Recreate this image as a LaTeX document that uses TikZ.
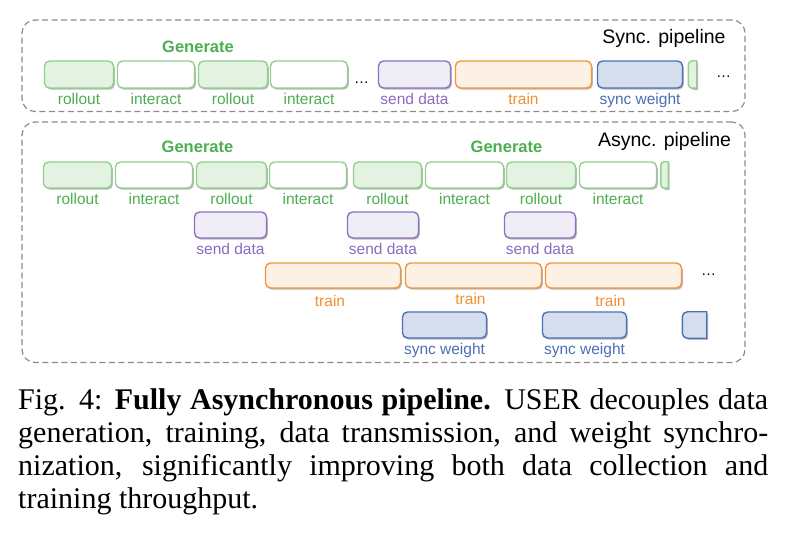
\documentclass[tikz,border=0pt]{standalone}
\usepackage{fontspec}
\setmainfont{Liberation Serif}
\newfontfamily\sansf{Liberation Sans}
\newfontfamily\capfont{Liberation Serif}
\usetikzlibrary{shadows}
\definecolor{gdraw}{HTML}{92D08D}
\definecolor{gfill}{HTML}{E4F2E2}
\definecolor{gtext}{HTML}{4CAF50}
\definecolor{pdraw}{HTML}{9070C0}
\definecolor{pfill}{HTML}{EFEDF6}
\definecolor{ptext}{HTML}{8C6BC0}
\definecolor{odraw}{HTML}{F3973A}
\definecolor{ofill}{HTML}{FDF0E5}
\definecolor{otext}{HTML}{F29033}
\definecolor{bdraw}{HTML}{4C72B6}
\definecolor{bfill}{HTML}{D4DEEF}
\definecolor{btext}{HTML}{4A6FB5}
\definecolor{frame}{HTML}{8C8C8C}
\begin{document}
\begin{tikzpicture}[x=1pt,y=1pt,
  shd/.style={drop shadow={shadow xshift=1.3pt, shadow yshift=-1.6pt, opacity=0.28, fill=black}},
  blk/.style={rounded corners=5pt, line width=1.4pt, inner sep=0pt, minimum height=26pt, shd},
  boxG/.style={blk, draw=gdraw, fill=gfill},
  boxW/.style={blk, draw=gdraw, fill=white},
  boxP/.style={blk, draw=pdraw, fill=pfill},
  boxO/.style={blk, draw=odraw, fill=ofill},
  boxB/.style={blk, draw=bdraw, fill=bfill},
  pathshd/.style={preaction={fill=black, opacity=0.28, draw=none, transform canvas={shift={(1.3pt,-1.6pt)}}}},
  halfG/.style={sharp corners, line width=1.4pt, draw=gdraw, fill=gfill, pathshd},
  halfB/.style={sharp corners, line width=1.4pt, draw=bdraw, fill=bfill, pathshd},
  ghost/.style={inner sep=0pt, minimum height=26pt},
  lbl/.style={font=\sansf\fontsize{15.5}{18}\selectfont, anchor=base, inner sep=0pt},
  lblG/.style={lbl, text=gtext},
  lblP/.style={lbl, text=ptext},
  lblO/.style={lbl, text=otext},
  lblB/.style={lbl, text=btext},
  gen/.style={font=\sansf\bfseries\fontsize{16.5}{19}\selectfont, text=gtext, anchor=base, inner sep=0pt},
  ttl/.style={font=\sansf\fontsize{19.5}{22}\selectfont, anchor=base, inner sep=0pt},
  dots/.style={font=\sansf\fontsize{15}{18}\selectfont, anchor=base, inner sep=0pt},
  container/.style={draw=frame, line width=1.2pt, dash pattern=on 6pt off 3.5pt, rounded corners=13pt, inner sep=0pt},
  captxt/.style={font=\capfont\fontsize{30}{33}\selectfont, anchor=base west, inner sep=0pt}
]
\useasboundingbox (0,0) rectangle (785,-540);
\fill[white] (0,0) rectangle (785,-540);

% containers
\node[container, minimum width=723pt, minimum height=91.5pt] (sync) at (383.5,-65.75) {};
\node[container, minimum width=723pt, minimum height=240.5pt] (async) at (383.5,-242.25) {};
\node[ttl] (synct) at (664,-44) {Sync. pipeline};
\node[ttl] (asynct) at (664.5,-146.7) {Async. pipeline};

% ---------------- Sync pipeline ----------------
\node[gen] (sgen) at (198,-53) {Generate};
\node[boxG, minimum width=69pt, minimum height=27pt] (s1) at (79,-74.5) {};
\node[boxW, minimum width=77pt, minimum height=27pt] (s2) at (156,-74.5) {};
\node[boxG, minimum width=69pt, minimum height=27pt] (s3) at (233,-74.5) {};
\node[boxW, minimum width=77pt, minimum height=27pt] (s4) at (309,-74.5) {};
\node[dots] (sd1) at (361.5,-84) {\ldots};
\node[boxP, minimum width=72pt, minimum height=27pt] (s5) at (414.5,-74.5) {};
\node[boxO, minimum width=136pt, minimum height=27pt] (s6) at (523.5,-74.5) {};
\node[boxB, minimum width=85pt, minimum height=27pt] (s7) at (640,-74.5) {};
\node[ghost, minimum width=8pt, minimum height=27pt] (s8) at (692.5,-74.5) {};
\path[halfG] (s8.north east) -- (s8.south east) -- ([xshift=4pt]s8.south west)
  arc[start angle=-90, end angle=-180, radius=4pt] -- ([yshift=-4pt]s8.north west)
  arc[start angle=180, end angle=90, radius=4pt] -- cycle;
\node[dots] (sd2) at (723.5,-78) {\ldots};

\node[lblG] (l1) at (s1.south |- 0,-104.5) {rollout};
\node[lblG] (l2) at (s2.south |- 0,-104.5) {interact};
\node[lblG] (l3) at (s3.south |- 0,-104.5) {rollout};
\node[lblG] (l4) at (s4.south |- 0,-104.5) {interact};
\node[lblP] (l5) at (s5.south |- 0,-104.5) {send data};
\node[lblO] (l6) at (s6.south |- 0,-104.5) {train};
\node[lblB] (l7) at (s7.south |- 0,-104.5) {sync weight};

% ---------------- Async pipeline ----------------
\node[gen] (agen1) at (197.5,-153) {Generate};
\node[gen] (agen2) at (506.5,-153) {Generate};

\node[boxG, minimum width=68pt] (a1) at (77.5,-175) {};
\node[boxW, minimum width=77pt] (a2) at (154,-175) {};
\node[boxG, minimum width=70pt] (a3) at (231.5,-175) {};
\node[boxW, minimum width=77pt] (a4) at (308,-175) {};
\node[boxG, minimum width=68pt] (a5) at (387.5,-175) {};
\node[boxW, minimum width=78pt] (a6) at (464.5,-175) {};
\node[boxG, minimum width=69pt] (a7) at (541,-175) {};
\node[boxW, minimum width=77pt] (a8) at (618,-175) {};
\node[ghost, minimum width=7pt] (a9) at (664.5,-175) {};
\path[halfG] (a9.north east) -- (a9.south east) -- ([xshift=3.5pt]a9.south west)
  arc[start angle=-90, end angle=-180, radius=3.5pt] -- ([yshift=-3.5pt]a9.north west)
  arc[start angle=180, end angle=90, radius=3.5pt] -- cycle;

\node[lblG] (m1) at (a1.south |- 0,-205) {rollout};
\node[lblG] (m2) at (a2.south |- 0,-205) {interact};
\node[lblG] (m3) at (a3.south |- 0,-205) {rollout};
\node[lblG] (m4) at (a4.south |- 0,-205) {interact};
\node[lblG] (m5) at (a5.south |- 0,-205) {rollout};
\node[lblG] (m6) at (a6.south |- 0,-205) {interact};
\node[lblG] (m7) at (a7.south |- 0,-205) {rollout};
\node[lblG] (m8) at (a8.south |- 0,-205) {interact};

% send data
\node[boxP, minimum width=72pt] (d1) at (230.5,-225) {};
\node[boxP, minimum width=71pt] (d2) at (383,-225) {};
\node[boxP, minimum width=71pt] (d3) at (540,-225) {};
\node[lblP] (n1) at (d1.south |- 0,-254.5) {send data};
\node[lblP] (n2) at (d2.south |- 0,-254.5) {send data};
\node[lblP] (n3) at (d3.south |- 0,-254.5) {send data};

% train
\node[boxO, minimum width=135pt, minimum height=25pt] (t1) at (333,-275.5) {};
\node[boxO, minimum width=136pt, minimum height=25pt] (t2) at (473.5,-275.5) {};
\node[boxO, minimum width=136pt, minimum height=25pt] (t3) at (613.5,-275.5) {};
\node[dots] (td) at (708.5,-276) {\ldots};
\node[lblO] (o1) at ([xshift=-3pt]t1.south |- 0,-306) {train};
\node[lblO] (o2) at ([xshift=-3pt]t2.south |- 0,-304.5) {train};
\node[lblO] (o3) at ([xshift=-3pt]t3.south |- 0,-306) {train};

% sync weight
\node[boxB, minimum width=84pt] (w1) at (444.5,-325) {};
\node[boxB, minimum width=84pt] (w2) at (584.5,-325) {};
\node[ghost, minimum width=24pt] (w3) at (694.5,-325) {};
\path[halfB] (w3.north east) -- (w3.south east) -- ([xshift=5pt]w3.south west)
  arc[start angle=-90, end angle=-180, radius=5pt] -- ([yshift=-5pt]w3.north west)
  arc[start angle=180, end angle=90, radius=5pt] -- cycle;
\node[lblB] (q1) at (w1.south |- 0,-354.5) {sync weight};
\node[lblB] (q2) at (w2.south |- 0,-354.5) {sync weight};

% ---------------- Caption ----------------
\node[captxt] (c1) at (18,-409.5) {\makebox[750pt][s]{Fig. 4: \textbf{Fully Asynchronous pipeline.} USER decouples data}};
\node[captxt] (c2) at (18,-442.5) {\makebox[750pt][s]{generation, training, data transmission, and weight synchro-}};
\node[captxt] (c3) at (18,-475.5) {\makebox[750pt][s]{nization, significantly improving both data collection and}};
\node[captxt] (c4) at (18,-508.5) {training throughput.};
\end{tikzpicture}
\end{document}
